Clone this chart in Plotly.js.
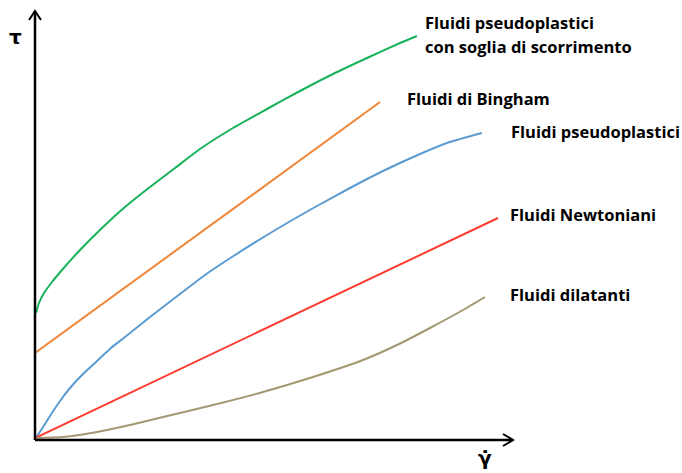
<!DOCTYPE html>
<html>
<head>
<meta charset="utf-8">
<script src="https://cdn.plot.ly/plotly-3.0.1.min.js"></script>
<style>html,body{margin:0;padding:0;background:#fff;}#chart{width:682px;height:473px;}</style>
</head>
<body>
<div id="chart"></div>
<script>
// Shear rate (x) and shear stress (y) (arbitrary units)
const greenX = [1, 4, 9, 17, 27, 45, 67, 90, 115, 140, 165, 198, 232, 265, 298, 332, 365, 382];
const greenY = [127, 137, 147, 158, 170, 190, 212, 233, 253, 272, 291, 312, 331, 349, 366, 382, 397, 404];
const orangeX = [0, 345];
const orangeY = [87, 338];
const blueX = [1, 8, 15, 25, 35, 48, 62, 76, 90, 115, 145, 170, 200, 242, 282, 315, 348, 385, 412, 447];
const blueY = [2, 13, 24, 39, 52, 66, 79, 92, 103, 123, 146, 165, 185, 211, 234, 252, 269, 286, 297, 307];
const redX = [0, 463];
const redY = [2, 222];
const tanX = [2, 28, 62, 95, 128, 178, 228, 278, 328, 362, 395, 428, 450];
const tanY = [2, 3, 8, 15, 23, 35, 48, 63, 80, 95, 112, 130, 143];

const labels = ["Fluidi pseudoplastici", "con soglia di scorrimento", "Fluidi di Bingham", "Fluidi pseudoplastici", "Fluidi Newtoniani", "Fluidi dilatanti"];
const labelX = [388, 388, 370, 474, 473, 473];
const labelY = [418, 394, 342, 309, 226, 146];

const font = "'Open Sans', sans-serif";

function line(x, y, color) {
  return {x: x, y: y, type: 'scatter', mode: 'lines', line: {color: color, width: 2, shape: 'spline', smoothing: 0.6}, hoverinfo: 'skip'};
}

const data = [
  line(greenX, greenY, '#18b25a'),
  line(orangeX, orangeY, '#ef8536'),
  line(blueX, blueY, '#5b9bd0'),
  line(redX, redY, '#ff3b2f'),
  line(tanX, tanY, '#a39872')
];

const annotations = labels.map((t, i) => ({
  x: labelX[i], y: labelY[i], xref: 'x', yref: 'y', text: t, showarrow: false,
  xanchor: 'left', yanchor: 'middle', font: {family: font, size: 16.5, weight: 'bold', color: '#000'}
}));
annotations.push({x: -0.04, y: 0.94, xref: 'paper', yref: 'paper', text: 'τ', showarrow: false,
  xanchor: 'center', yanchor: 'middle', font: {family: "'DejaVu Sans', sans-serif", size: 20, weight: 'bold', color: '#000'}});
annotations.push({x: 0.941, y: -0.042, xref: 'paper', yref: 'paper', text: 'γ̇', showarrow: false,
  xanchor: 'center', yanchor: 'middle', font: {family: "'DejaVu Sans', sans-serif", size: 20, weight: 'bold', color: '#000'}});

const axisStyle = {showline: false, showgrid: false, zeroline: false, showticklabels: false, ticks: '', fixedrange: true};

const layout = {
  width: 682, height: 473,
  margin: {l: 35, r: 169, t: 11, b: 33},
  paper_bgcolor: '#fff', plot_bgcolor: '#fff',
  showlegend: false,
  xaxis: Object.assign({range: [0, 478]}, axisStyle),
  yaxis: Object.assign({range: [0, 429]}, axisStyle),
  annotations: annotations,
  shapes: [
    {type: 'path', xref: 'paper', yref: 'paper', path: 'M0,0 L0,1', line: {color: '#000', width: 2.5}},
    {type: 'path', xref: 'paper', yref: 'paper', path: 'M-0.01255,0.979 L0,1 L0.01255,0.979', line: {color: '#000', width: 2}},
    {type: 'path', xref: 'paper', yref: 'paper', path: 'M0,0 L1,0', line: {color: '#000', width: 2.5}},
    {type: 'path', xref: 'paper', yref: 'paper', path: 'M0.979,0.014 L1,0 L0.979,-0.014', line: {color: '#000', width: 2}}
  ]
};

Plotly.newPlot('chart', data, layout, {displayModeBar: false, staticPlot: true});
</script>
</body>
</html>
